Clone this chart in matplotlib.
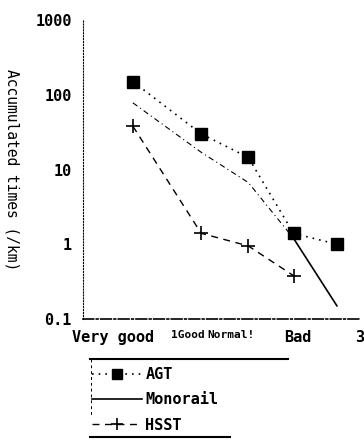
import matplotlib

matplotlib.use("Agg")
import matplotlib.pyplot as plt
from matplotlib.lines import Line2D

# Data
x_pos = [0.54, 1.28, 1.79, 2.28, 2.75]
agt = [150, 30, 14.5, 1.4, 1.0]
monorail = [78, 17, 6.7, 1.2, 0.15]
hsst_x = [0.54, 1.28, 1.79, 2.28]
hsst = [38, 1.4, 0.95, 0.38]

tick_pos = [0.33, 1.14, 1.6, 2.33, 3.0]
tick_labels = ["Very good", "1Good", "Normal!", "Bad", "3"]
y_ticks = [0.1, 1, 10, 100, 1000]
y_labels = ["0.1", "1", "10", "100", "1000"]

FONT = ["DejaVu Sans Mono"]
plt.rcParams["font.family"] = FONT

fig = plt.figure(figsize=(3.64, 4.4), dpi=100)
ax = fig.add_axes([83 / 364, 1 - 319 / 440, (360 - 83) / 364, (319 - 20) / 440])

ax.plot(x_pos, agt, color="black", linestyle=(0, (1, 3)), lw=1.2,
        marker="s", ms=9, label="AGT")
ax.plot(x_pos[:4], monorail[:4], color="black", linestyle=(0, (5, 3, 1, 3)), lw=0.8)
ax.plot(x_pos[3:], monorail[3:], color="black", lw=1.2, label="Monorail")
ax.plot(hsst_x, hsst, color="black", linestyle=(0, (5, 4)), lw=1,
        marker="+", ms=10, mew=1.2, label="HSST")

ax.set_yscale("log")
ax.set_ylim(0.1, 1000)
ax.set_xlim(0, 3)
ax.set_yticks(y_ticks)
ax.set_yticklabels(y_labels, fontsize=11, fontweight="bold")
ax.minorticks_off()
ax.set_xticks(tick_pos)
ax.set_xticklabels(tick_labels, fontsize=11, fontweight="bold")
for lbl in ax.get_xticklabels()[1:3]:
    lbl.set_fontsize(8)
ax.tick_params(length=0, pad=8)

for side in ("top", "right"):
    ax.spines[side].set_visible(False)
ax.spines["left"].set_linestyle(":")
ax.spines["left"].set_linewidth(0.8)
ax.spines["bottom"].set_linestyle("-.")
ax.spines["bottom"].set_linewidth(1.2)

fig.text(12 / 364, 1 - 170 / 440, "Accumulated times (/km)", rotation=270,
         ha="center", va="center", fontsize=10.5)

handles, labels = ax.get_legend_handles_labels()
fig.legend(handles, labels, loc="upper left",
           bbox_to_anchor=(92 / 364, 1 - 367 / 440), frameon=False,
           prop={"size": 11, "weight": "bold"}, labelspacing=0.68,
           handlelength=3.3, handletextpad=0.2, borderpad=0, borderaxespad=0,
           markerscale=0.8)

# legend box edges as in the scan
fig.add_artist(Line2D([90 / 364, 288 / 364], [1 - 359 / 440] * 2,
                      color="black", lw=1.5))
fig.add_artist(Line2D([91 / 364, 91 / 364], [1 - 359 / 440, 1 - 415 / 440],
                      color="black", lw=0.7, linestyle=(0, (3, 3))))
fig.add_artist(Line2D([90 / 364, 230 / 364], [1 - 437 / 440] * 2,
                      color="black", lw=1.5))

fig.savefig("out.png", dpi=100)
